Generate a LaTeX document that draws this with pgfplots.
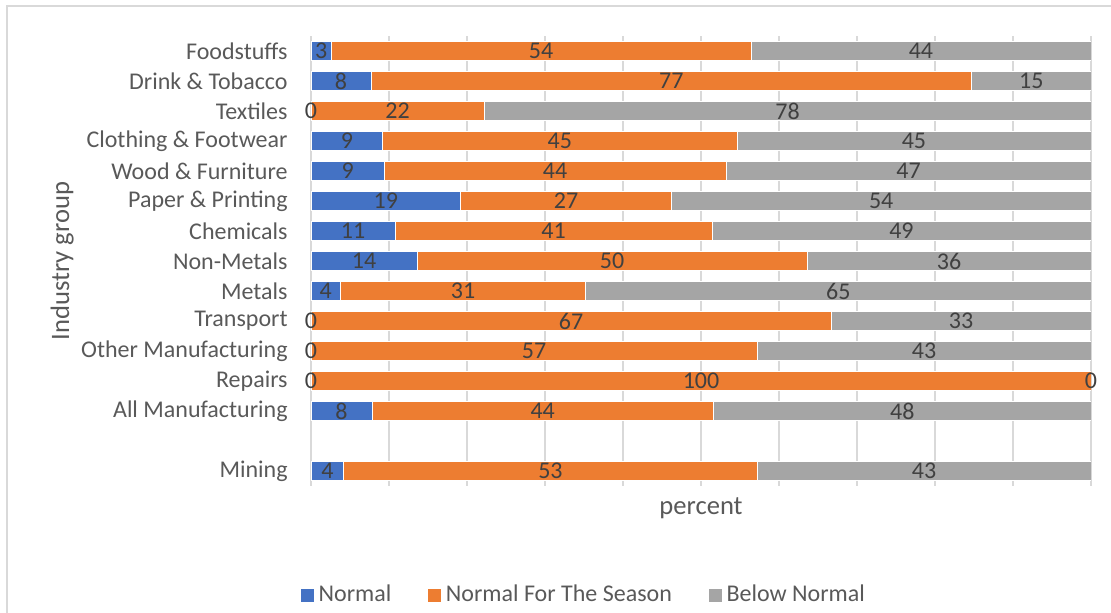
\documentclass[border=0pt]{standalone}
\usepackage{fontspec}
\setmainfont{Carlito}
\usepackage{pgfplots}
\usepackage{pgfplotstable}
\pgfplotsset{compat=1.18}
\definecolor{cblue}{HTML}{4472C4}
\definecolor{corange}{HTML}{ED7D31}
\definecolor{cgrey}{HTML}{A5A5A5}
\definecolor{tickgrey}{HTML}{595959}
\definecolor{labgrey}{HTML}{404040}
\definecolor{gridgrey}{HTML}{D9D9D9}
\pgfplotstableread{
y a b c
14 2.6 53.8 43.6
13 7.7 77.0 15.3
12 0 22.2 77.8
11 9.2 45.4 45.4
10 9.4 43.8 46.8
9 19.2 27.0 53.8
8 10.8 40.6 48.6
7 13.6 50.0 36.4
6 3.8 31.4 64.8
5 0 66.7 33.3
4 0 57.2 42.8
3 0 100 0
2 7.8 43.8 48.4
0 4.2 53.0 42.8
}\data
\pgfplotsset{
  frame/.style={at={(155.5pt,63.5pt)}, anchor=south west,
    scale only axis, width=390pt, height=225pt,
    xmin=0, xmax=100, ymin=-0.5, ymax=14.5}
}
\begin{document}
\begin{tikzpicture}
\useasboundingbox (0pt,0pt) rectangle (555.5pt,306.5pt);
\draw[gridgrey, line width=0.9pt] (3.5pt,-3pt) -- (3.5pt,303.5pt) -- (560pt,303.5pt);
\begin{axis}[
  frame,
  xbar stacked, bar width=0.65,
  axis line style={draw=none},
  xtick={0,10,...,100}, xticklabels={},
  xmajorgrids, major grid style={gridgrey, line width=0.9pt},
  ytick={0,2,3,4,5,6,7,8,9,10,11,12,13,14},
  yticklabels={Mining,All Manufacturing,Repairs,Other Manufacturing,Transport,Metals,Non-Metals,Chemicals,Paper \& Printing,Wood \& Furniture,Clothing \& Footwear,Textiles,Drink \& Tobacco,Foodstuffs},
  major tick length=0pt,
  yticklabel style={font=\fontsize{12}{14}\selectfont, text=tickgrey, inner sep=0pt, xshift=-11.5pt},
  ylabel={Industry group},
  ylabel style={font=\fontsize{13.3}{15}\selectfont, text=tickgrey, at={(axis description cs:-0.319,0.5)}, anchor=center},
  xlabel={percent},
  xlabel style={font=\fontsize{13.3}{15}\selectfont, text=tickgrey, at={(axis description cs:0.5,-0.049)}, anchor=center},
  legend columns=3,
  legend style={draw=none, fill=none, at={(axis description cs:0.3506,-0.242)}, anchor=center,
    font=\fontsize{12}{14}\selectfont, text=tickgrey,
    /tikz/every even column/.append style={column sep=16pt}},
  legend image code/.code={\fill[#1] (0pt,-3.5pt) rectangle (7pt,3.5pt);},
  legend cell align=left,
]
\addplot[fill=cblue, draw=white, line width=0.3pt] table[x=a, y=y] {\data};
\addplot[fill=corange, draw=white, line width=0.3pt] table[x=b, y=y] {\data};
\addplot[fill=cgrey, draw=white, line width=0.3pt] table[x=c, y=y] {\data};
\legend{Normal, Normal For The Season, Below Normal}
\end{axis}
\begin{axis}[
  frame, hide axis, clip=false,
  lab/.style={only marks, mark=none, point meta=explicit,
    nodes near coords={\pgfmathprintnumber[fixed,precision=0,assume math mode=true]{\pgfplotspointmeta}},
    every node near coord/.style={anchor=center, font=\fontsize{12}{14}\selectfont, text=labgrey, inner sep=0pt}},
]
\addplot[lab] table[x expr=\thisrow{a}/2, y=y, meta=a] {\data};
\addplot[lab] table[x expr=\thisrow{a}+\thisrow{b}/2, y=y, meta=b] {\data};
\addplot[lab] table[x expr=\thisrow{a}+\thisrow{b}+\thisrow{c}/2, y=y, meta=c] {\data};
\end{axis}
\end{tikzpicture}
\end{document}
